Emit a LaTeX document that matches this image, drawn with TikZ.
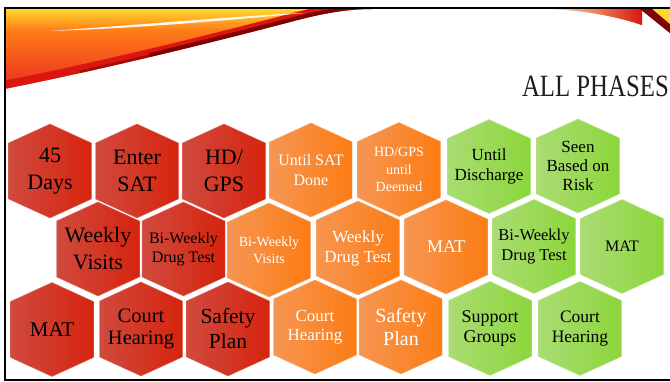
\documentclass[tikz,border=0pt]{standalone}
\usepackage{fontspec}
\setmainfont{Liberation Serif}
\definecolor{redL}{RGB}{208,74,62}
\definecolor{redR}{RGB}{214,36,14}
\definecolor{orangeL}{RGB}{246,150,82}
\definecolor{orangeR}{RGB}{252,124,20}
\definecolor{greenL}{RGB}{170,220,115}
\definecolor{greenR}{RGB}{140,214,60}
\definecolor{swA}{RGB}{255,215,45}
\definecolor{swB}{RGB}{255,125,25}
\definecolor{swC}{RGB}{232,45,30}
\definecolor{swRed}{RGB}{218,22,15}
\definecolor{swDark}{RGB}{125,5,5}
\definecolor{titlecol}{RGB}{30,30,30}
\tikzset{
  redhex/.style={left color=redL, right color=redR, draw=redL!75!white, line width=0.4pt},
  orangehex/.style={left color=orangeL, right color=orangeR, draw=orangeL!75!white, line width=0.4pt},
  greenhex/.style={left color=greenL, right color=greenR, draw=greenL!75!white, line width=0.4pt},
  redhextext/.style={text=black, align=center, inner sep=0pt},
  orangehextext/.style={text=white, align=center, inner sep=0pt},
  greenhextext/.style={text=black, align=center, inner sep=0pt},
  frameline/.style={line width=2pt, draw=black}
}
\newcommand\hexcell[7]{%
  \shade[#4] (#2,#3-47) -- (#2+41.5,#3-28) -- (#2+41.5,#3+28) -- (#2,#3+47) -- (#2-41.5,#3+28) -- (#2-41.5,#3-28) -- cycle;
  \node[#4text, font=\fontsize{#5}{#6}\selectfont] (#1) at (#2,#3) {#7};
}
\def\swooshpath{(4,9) -- (372,9) .. controls (345,9) and (320,14) .. (290,22) .. controls (210,43) and (100,70) .. (4,89) -- cycle}
\def\cornerpath{(548,9) -- (671,9) -- (671,37) .. controls (640,22) and (600,11) .. (548,9) -- cycle}
\begin{document}
\begin{tikzpicture}[x=1pt,y=-1pt]
\useasboundingbox (0,0) rectangle (670,382);
\fill[white] (0,0) rectangle (670,382);
% banner swoosh left
\begin{scope}
  \clip \swooshpath;
  \shade[top color=swA, bottom color=swB] (4,9) rectangle (372,30);
  \shade[top color=swB, bottom color=swC] (4,30) rectangle (372,89.5);
  \draw[line width=16pt, draw=swRed] (380,9) .. controls (345,9) and (320,14) .. (290,22) .. controls (210,43) and (100,70) .. (4,89);
  \draw[line width=8pt, draw=swDark] (380,9) .. controls (345,9) and (320,14) .. (290,22) .. controls (240,35) and (200,45) .. (150,57);
  \draw[line width=5pt, draw=swDark, opacity=0.6] (150,57) -- (80,73);
  \fill[white, opacity=0.9] (50,31) .. controls (150,24) and (250,15) .. (305,13) .. controls (250,18) and (150,28) .. (50,31) -- cycle;
\end{scope}
% banner corner right
\begin{scope}
  \clip \cornerpath;
  \shade[left color=swA!40!white, right color=swRed] (548,9) rectangle (642,37);
  \fill[swA] (652,9) -- (671,9) -- (671,25) -- cycle;
  \fill[swDark] (640,9) -- (652,9) -- (671,25) -- (671,34) -- cycle;
\end{scope}
% frame
\draw[frameline] (671,8) -- (5,8) -- (5,379.5) -- (671,379.5);
% title
\node[anchor=base east, text=titlecol, inner sep=0pt, font=\fontsize{31}{31}\selectfont] (title) at (669,97) {\scalebox{0.8}[1]{ALL PHASES}};
% row 1
\hexcell{h11}{50}{171}{redhex}{22}{27}{45\\Days}
\hexcell{h12}{137}{171}{redhex}{22}{27}{Enter\\SAT}
\hexcell{h13}{224}{171}{redhex}{22}{27}{HD/\\GPS}
\hexcell{h14}{311}{170}{orangehex}{16}{20}{Until SAT\\Done}
\hexcell{h15}{399}{169.5}{orangehex}{14}{17.5}{HD/GPS\\until\\Deemed}
\hexcell{h16}{489}{166.5}{greenhex}{17}{20}{Until\\Discharge}
\hexcell{h17}{578}{166}{greenhex}{17}{19}{Seen\\Based on\\Risk}
% row 2
\hexcell{h21}{98}{249}{redhex}{22}{27}{Weekly\\Visits}
\hexcell{h22}{183.5}{249}{redhex}{16}{19}{Bi-Weekly\\Drug Test}
\hexcell{h23}{269}{250}{orangehex}{14}{17}{Bi-Weekly\\Visits}
\hexcell{h24}{358}{248}{orangehex}{17}{20}{Weekly\\Drug Test}
\hexcell{h25}{446}{247}{orangehex}{18}{20}{MAT}
\hexcell{h26}{534}{246.5}{greenhex}{16.5}{20}{Bi-Weekly\\Drug Test}
\hexcell{h27}{622}{246.5}{greenhex}{16}{18}{MAT}
% row 3
\hexcell{h31}{52}{329.5}{redhex}{21}{24}{MAT}
\hexcell{h32}{141}{329}{redhex}{20.5}{22.5}{Court\\Hearing}
\hexcell{h33}{228}{329}{redhex}{21.5}{25}{Safety\\Plan}
\hexcell{h34}{315}{327}{orangehex}{17}{19.5}{Court\\Hearing}
\hexcell{h35}{401}{327}{orangehex}{20}{23}{Safety\\Plan}
\hexcell{h36}{490}{328.5}{greenhex}{18}{20}{Support\\Groups}
\hexcell{h37}{580}{328.5}{greenhex}{17.5}{20}{Court\\Hearing}
\end{tikzpicture}
\end{document}
